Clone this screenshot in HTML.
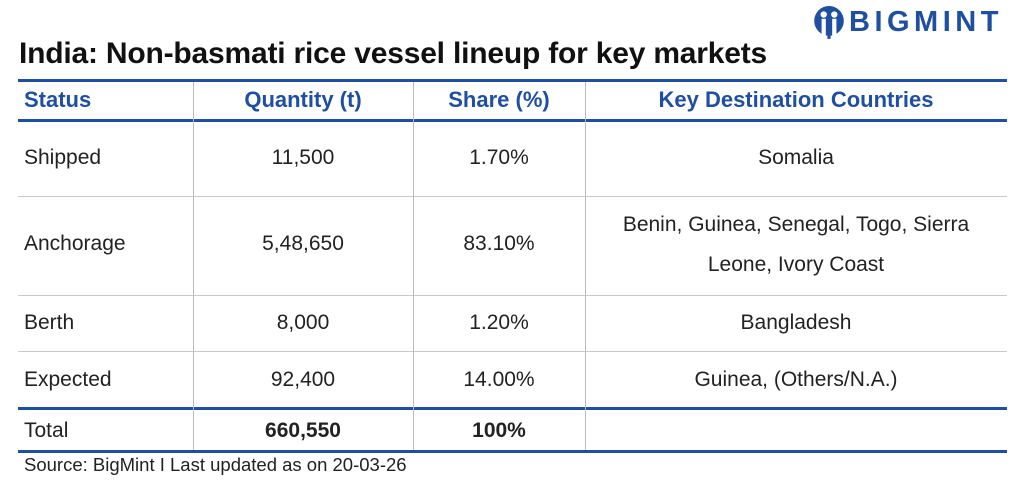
<!DOCTYPE html>
<html><head><style>
body{margin:0;width:1024px;height:491px;background:#fff;position:relative;overflow:hidden;font-family:"Liberation Sans",Arial,sans-serif;}
.a{position:absolute;}
.t{font-size:21px;color:#222;white-space:nowrap;}
.h{font-size:22px;color:#1f4fa0;font-weight:bold;white-space:nowrap;}
.c{transform:translateX(-50%);text-align:center;}
.bl{position:absolute;left:18px;width:989px;background:#1f4fa0;}
.gl{position:absolute;left:18px;width:989px;height:1px;background:#c8c8c8;}
.v{position:absolute;width:1px;background:#bbb;}
</style></head><body>
<div class="a" style="left:812px;top:5px;width:34px;height:36px;">
<svg width="34" height="36" viewBox="0 0 32 34"><circle cx="16" cy="15" r="14" fill="#1f4fa0"/><circle cx="11" cy="9" r="3" fill="#fff"/><circle cx="21" cy="9" r="3" fill="#fff"/><rect x="9" y="13" width="4" height="16" fill="#fff"/><rect x="19" y="13" width="4" height="16" fill="#fff"/><rect x="14.5" y="12" width="3" height="20" fill="#1f4fa0"/></svg></div>
<div class="a" style="left:849px;top:6px;font-size:29px;font-weight:bold;color:#1f4fa0;letter-spacing:4.5px;">BIGMINT</div>
<div class="a" style="left:19px;top:37px;font-size:30px;font-weight:bold;color:#111;letter-spacing:-0.2px;">India: Non-basmati rice vessel lineup for key markets</div>
<div class="bl" style="top:79px;height:3px;"></div>
<div class="bl" style="top:119px;height:3px;"></div>
<div class="gl" style="top:196px;"></div>
<div class="gl" style="top:295px;"></div>
<div class="gl" style="top:351px;"></div>
<div class="bl" style="top:407px;height:3px;"></div>
<div class="bl" style="top:450px;height:3px;"></div>
<div class="v" style="left:193px;top:82px;height:368px;"></div>
<div class="v" style="left:413px;top:82px;height:368px;"></div>
<div class="v" style="left:585px;top:82px;height:368px;"></div>
<div class="a h" style="left:24px;top:87px;">Status</div>
<div class="a h c" style="left:303px;top:87px;">Quantity (t)</div>
<div class="a h c" style="left:499px;top:87px;">Share (%)</div>
<div class="a h c" style="left:796px;top:87px;">Key Destination Countries</div>

<div class="a t" style="left:24px;top:146px;">Shipped</div>
<div class="a t c" style="left:303px;top:146px;">11,500</div>
<div class="a t c" style="left:499px;top:146px;">1.70%</div>
<div class="a t c" style="left:796px;top:146px;">Somalia</div>

<div class="a t" style="left:24px;top:232px;">Anchorage</div>
<div class="a t c" style="left:303px;top:232px;">5,48,650</div>
<div class="a t c" style="left:796px;top:205px;line-height:40px;">Benin, Guinea, Senegal, Togo, Sierra<br>Leone, Ivory Coast</div>
<div class="a t c" style="left:499px;top:232px;">83.10%</div>

<div class="a t" style="left:24px;top:311px;">Berth</div>
<div class="a t c" style="left:303px;top:311px;">8,000</div>
<div class="a t c" style="left:499px;top:311px;">1.20%</div>
<div class="a t c" style="left:796px;top:311px;">Bangladesh</div>

<div class="a t" style="left:24px;top:368px;">Expected</div>
<div class="a t c" style="left:303px;top:368px;">92,400</div>
<div class="a t c" style="left:499px;top:368px;">14.00%</div>
<div class="a t c" style="left:796px;top:368px;">Guinea, (Others/N.A.)</div>

<div class="a t" style="left:24px;top:419px;">Total</div>
<div class="a t c" style="left:303px;top:419px;font-weight:bold;">660,550</div>
<div class="a t c" style="left:499px;top:419px;font-weight:bold;">100%</div>

<div class="a" style="left:24px;top:454px;font-size:18.5px;color:#222;">Source: BigMint I Last updated as on 20-03-26</div>
</body></html>
